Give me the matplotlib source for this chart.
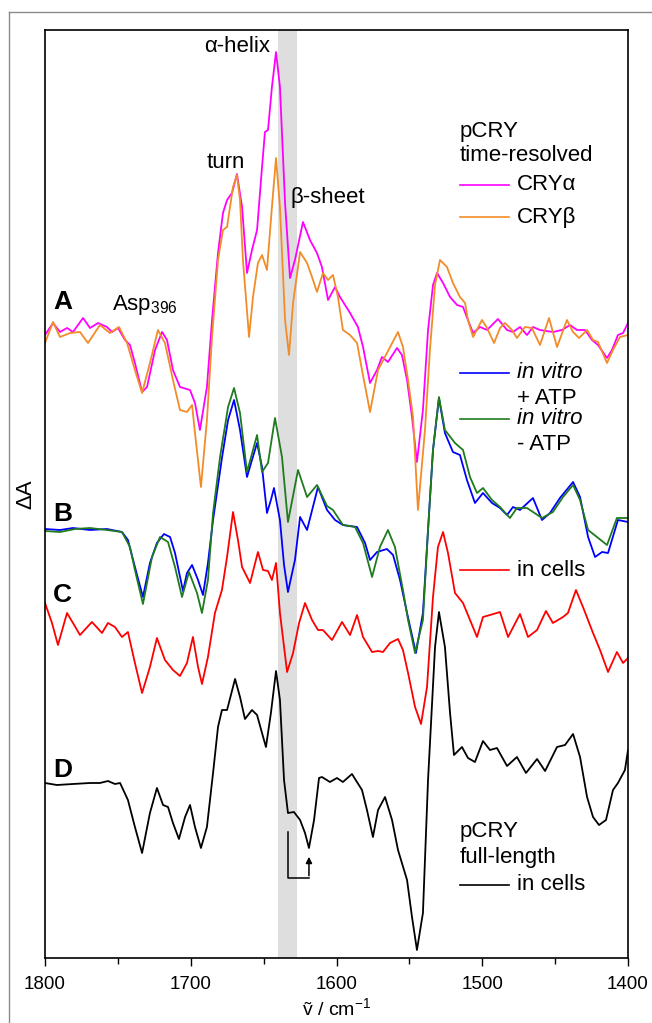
import matplotlib
matplotlib.use("Agg")
import matplotlib.pyplot as plt
from matplotlib.lines import Line2D

plt.rcParams['font.family'] = ['Liberation Sans', 'DejaVu Sans']
plt.rcParams['mathtext.fontset'] = 'custom'
plt.rcParams['mathtext.rm'] = 'Liberation Sans'
plt.rcParams['mathtext.it'] = 'Liberation Sans:italic'

# difference spectra, (wavenumber / cm-1, dA in arb. units relative to each trace's baseline)
cry_alpha = [(1800.0, -5), (1794.5, 7), (1789.7, -2), (1784.9, 2), (1780.8, -2), (1773.9, 12), (1769.1, 2),
             (1763.6, 7), (1757.5, 3), (1754.0, -2), (1749.9, 2), (1745.1, -10), (1741.7, -15), (1738.3, -33),
             (1733.4, -62), (1730.0, -57), (1724.5, -20), (1719.7, -2), (1716.3, -10), (1712.2, -40),
             (1707.4, -57), (1700.5, -60), (1697.1, -73), (1693.7, -100), (1688.9, -57), (1685.4, 10),
             (1681.3, 77), (1677.9, 117), (1675.1, 130), (1671.7, 137), (1668.3, 156), (1664.8, 123),
             (1661.4, 57), (1658.0, 80), (1654.5, 100), (1651.1, 163), (1649.1, 198), (1647.0, 200),
             (1644.3, 243), (1641.5, 278), (1638.8, 243), (1635.3, 127), (1631.9, 52), (1628.5, 70),
             (1623.0, 108), (1618.2, 90), (1613.4, 77), (1610.0, 63), (1605.8, 30), (1601.0, 43), (1597.6, 33),
             (1590.7, 17), (1585.3, 3), (1581.8, -17), (1577.0, -53), (1572.2, -40), (1568.8, -27),
             (1564.7, -32), (1558.5, -18), (1555.1, -25), (1551.6, -50), (1548.2, -87), (1544.8, -132),
             (1540.7, -80), (1537.2, 0), (1533.8, 45), (1531.0, 57), (1526.9, 47), (1522.1, 33), (1517.3, 25),
             (1513.2, 23), (1509.8, 10), (1506.3, -3), (1501.5, 3), (1496.7, 0), (1489.2, 11), (1483.0, 0),
             (1478.9, -2), (1474.1, 3), (1469.3, -5), (1465.2, 3), (1460.4, 0), (1451.5, -2), (1445.3, 0),
             (1439.8, 5), (1435.0, 0), (1429.5, 0), (1424.7, -10), (1420.6, -15), (1414.4, -28), (1411.0, -20),
             (1406.9, -5), (1403.4, -3), (1400.0, 7)]

cry_beta = [(1800.0, -13), (1794.5, 8), (1789.7, -7), (1782.8, -3), (1776.0, -2), (1770.5, -13), (1762.3, 5),
            (1755.4, -3), (1749.2, 3), (1743.7, -13), (1738.3, -40), (1733.4, -63), (1728.0, -33), (1722.5, 0),
            (1717.7, -13), (1712.2, -50), (1707.4, -80), (1702.6, -82), (1699.1, -75), (1697.1, -103),
            (1693.0, -157), (1688.9, -90), (1685.4, -7), (1681.3, 70), (1677.9, 100), (1675.1, 103),
            (1671.0, 143), (1668.3, 155), (1666.2, 130), (1664.2, 70), (1660.0, -7), (1657.3, 33), (1653.9, 67),
            (1651.1, 75), (1647.7, 60), (1644.3, 123), (1641.5, 172), (1638.8, 123), (1635.3, 10),
            (1632.6, -25), (1629.8, 27), (1625.0, 78), (1620.2, 67), (1616.8, 53), (1613.4, 38), (1609.3, 57),
            (1605.8, 50), (1602.4, 55), (1599.0, 33), (1595.6, 0), (1590.7, -5), (1585.9, -13), (1582.5, -40),
            (1577.0, -82), (1571.5, -40), (1565.4, -23), (1557.8, -2), (1554.4, -17), (1550.9, -50),
            (1547.5, -87), (1544.1, -180), (1539.3, -100), (1535.9, -20), (1532.4, 45), (1529.0, 70),
            (1524.2, 63), (1520.1, 47), (1515.3, 33), (1511.8, 27), (1509.8, 10), (1506.3, -7), (1500.2, 10),
            (1496.7, 2), (1491.9, -13), (1487.8, 2), (1484.4, 7), (1479.6, 0), (1476.2, -8), (1470.7, 3),
            (1465.9, 2), (1460.4, -15), (1454.2, 12), (1448.7, -17), (1441.9, 10), (1437.7, -2), (1433.6, -8),
            (1428.1, 0), (1424.0, -10), (1420.6, -12), (1414.4, -33), (1410.3, -20), (1405.5, -7), (1400.0, -5)]

vitro_atp = [(1800.0, 1), (1789.7, 0), (1780.8, 2), (1769.1, 0), (1757.5, 1), (1747.2, -2), (1743.1, -10),
             (1738.3, -37), (1732.8, -67), (1728.0, -33), (1723.2, -13), (1718.4, -4), (1714.2, -7),
             (1710.8, -23), (1705.3, -61), (1702.6, -43), (1699.1, -35), (1695.0, -50), (1691.6, -65),
             (1688.2, -33), (1684.7, 10), (1678.6, 72), (1674.4, 110), (1670.3, 130), (1666.2, 100),
             (1661.4, 53), (1658.0, 70), (1654.5, 87), (1651.1, 63), (1647.7, 17), (1645.0, 30), (1642.9, 42),
             (1638.8, 10), (1636.0, -35), (1633.3, -62), (1628.5, -30), (1625.0, 13), (1620.2, 0), (1612.7, 43),
             (1606.5, 20), (1601.0, 10), (1595.6, 5), (1585.9, 3), (1580.4, -13), (1577.0, -30), (1572.2, -22),
             (1565.4, -19), (1561.2, -25), (1556.4, -50), (1551.6, -83), (1545.5, -123), (1540.7, -83),
             (1537.2, 0), (1533.8, 80), (1529.7, 132), (1525.6, 97), (1520.1, 78), (1515.3, 75), (1510.5, 50),
             (1505.0, 27), (1499.5, 37), (1493.3, 27), (1487.8, 22), (1483.0, 15), (1478.9, 23), (1474.1, 20),
             (1465.2, 32), (1459.0, 10), (1453.5, 17), (1446.7, 32), (1437.7, 48), (1432.9, 33), (1427.4, -7),
             (1422.6, -27), (1417.8, -22), (1413.7, -23), (1406.9, 10), (1400.0, 8)]

vitro_no_atp = [(1800.0, -1), (1789.7, -2), (1779.4, 1), (1769.1, 2), (1757.5, 0), (1747.2, -2), (1741.7, -17),
                (1738.3, -40), (1732.8, -74), (1726.6, -27), (1721.1, -7), (1715.6, -12), (1710.8, -37),
                (1706.0, -67), (1701.2, -42), (1695.7, -63), (1692.3, -83), (1688.2, -50), (1684.7, 17),
                (1679.9, 73), (1674.4, 123), (1670.3, 142), (1666.2, 117), (1661.4, 58), (1654.5, 95),
                (1651.1, 58), (1647.0, 67), (1642.2, 112), (1637.4, 73), (1633.3, 8), (1626.4, 60), (1620.2, 33),
                (1613.4, 45), (1606.5, 24), (1602.4, 20), (1595.6, 5), (1587.3, 3), (1581.8, -13), (1575.6, -47),
                (1570.2, -17), (1564.7, 0), (1559.9, -17), (1554.4, -60), (1550.9, -90), (1546.1, -123),
                (1540.7, -90), (1537.2, 0), (1533.8, 80), (1529.7, 133), (1525.6, 100), (1518.7, 87),
                (1513.2, 80), (1508.4, 53), (1503.6, 37), (1499.5, 42), (1493.3, 30), (1487.8, 23), (1481.0, 12),
                (1476.2, 22), (1469.3, 22), (1459.0, 12), (1451.5, 18), (1444.6, 33), (1437.7, 45), (1432.9, 30),
                (1427.4, 0), (1421.3, -7), (1414.4, -15), (1407.6, 12), (1400.0, 12)]

in_cells = [(1800.0, 17), (1795.2, -3), (1791.1, -25), (1784.9, 7), (1780.8, -3), (1776.0, -15), (1767.8, -2),
            (1760.9, -13), (1756.8, -3), (1752.0, -7), (1747.2, -17), (1743.1, -12), (1738.3, -43),
            (1733.4, -73), (1728.0, -47), (1723.2, -18), (1717.7, -40), (1712.2, -50), (1707.4, -56),
            (1702.6, -43), (1698.5, -17), (1695.0, -47), (1692.3, -64), (1688.2, -37), (1683.4, 7), (1678.6, 30),
            (1675.1, 63), (1671.0, 108), (1667.6, 80), (1664.8, 53), (1659.3, 37), (1653.9, 68), (1650.4, 50),
            (1647.0, 49), (1644.3, 40), (1641.5, 57), (1638.8, 7), (1633.9, -52), (1629.8, -33), (1625.7, -3),
            (1621.6, 17), (1616.8, 0), (1612.7, -10), (1609.3, -10), (1603.1, -20), (1596.2, -2), (1590.7, -15),
            (1585.9, 5), (1581.8, -17), (1575.6, -32), (1571.5, -31), (1568.1, -32), (1563.3, -23),
            (1557.8, -19), (1554.4, -30), (1550.9, -53), (1546.1, -87), (1542.0, -104), (1537.9, -67),
            (1533.8, 23), (1530.4, 73), (1526.9, 88), (1523.5, 67), (1518.7, 27), (1513.2, 17), (1508.4, 0),
            (1503.6, -17), (1499.5, 3), (1494.7, 5), (1487.8, 8), (1482.3, -17), (1474.1, 6), (1468.6, -17),
            (1462.4, -10), (1456.3, 9), (1451.5, -3), (1444.6, 3), (1441.2, 7), (1435.7, 30), (1430.9, 13),
            (1424.0, -13), (1419.2, -30), (1413.7, -52), (1407.6, -32), (1403.4, -43), (1400.0, -38)]

full_length = [(1800.0, 0), (1791.8, -2), (1780.8, -1), (1769.1, 0), (1762.3, 0), (1756.8, 2), (1752.0, -1),
               (1748.5, 0), (1743.1, -17), (1738.3, -44), (1733.4, -70), (1728.0, -30), (1723.2, -5),
               (1719.0, -22), (1715.6, -24), (1712.2, -40), (1708.1, -56), (1703.9, -34), (1700.5, -22),
               (1697.1, -44), (1693.0, -65), (1688.9, -44), (1684.7, 10), (1681.3, 56), (1678.6, 73),
               (1675.1, 73), (1669.6, 104), (1666.2, 86), (1662.8, 64), (1658.0, 73), (1654.5, 68), (1651.1, 50),
               (1648.4, 36), (1645.0, 70), (1641.5, 112), (1638.8, 83), (1636.0, 3), (1633.3, -30), (1629.2, -29),
               (1625.0, -37), (1621.6, -50), (1618.9, -65), (1615.4, -37), (1612.0, 5), (1610.0, 6), (1604.5, 1),
               (1599.7, 5), (1595.6, 1), (1589.4, 9), (1582.5, -7), (1579.1, -27), (1575.0, -54), (1571.5, -27),
               (1566.7, -14), (1561.9, -37), (1557.8, -67), (1551.6, -97), (1548.2, -134), (1544.8, -167),
               (1540.7, -130), (1537.2, 3), (1532.4, 136), (1529.7, 171), (1525.6, 136), (1522.1, 70),
               (1519.4, 28), (1513.9, 36), (1509.8, 25), (1505.0, 21), (1499.5, 42), (1494.7, 33), (1489.9, 35),
               (1483.0, 17), (1476.2, 26), (1470.0, 10), (1462.4, 24), (1456.9, 12), (1448.7, 36), (1443.2, 38),
               (1437.7, 49), (1432.9, 26), (1428.1, -14), (1424.0, -34), (1419.9, -42), (1415.1, -37),
               (1410.3, -7), (1406.9, 0), (1402.1, 13), (1400.0, 33)]

# vertical stacking offsets for panels A-D
offsets = {'A': 628, 'B': 428, 'C': 338, 'D': 175}

fig = plt.figure(figsize=(6.52, 10.23), dpi=100)
ax = fig.add_axes([45 / 652, 65 / 1023, 583 / 652, 928 / 1023])

# beta-sheet marker band
ax.axvspan(1640, 1627, color='#dedede', lw=0, zorder=0)

series = [(cry_alpha, 'A', '#ff00ff'), (cry_beta, 'A', '#f28c28'),
          (vitro_atp, 'B', '#0000ff'), (vitro_no_atp, 'B', '#1e7b1e'),
          (in_cells, 'C', '#ff0000'), (full_length, 'D', '#000000')]
for data, panel, col in series:
    nu = [p[0] for p in data]
    dA = [p[1] + offsets[panel] for p in data]
    ax.plot(nu, dA, color=col, lw=1.3, solid_joinstyle='round', solid_capstyle='round')

ax.set_xlim(1800, 1400)
ax.set_ylim(0, 928)
ax.set_xticks([1800, 1700, 1600, 1500, 1400])
ax.set_xticks([1750, 1650, 1550, 1450], minor=True)
ax.set_yticks([])
ax.tick_params(axis='x', which='major', direction='out', length=6, width=1, labelsize=13.5, pad=7)
ax.tick_params(axis='x', which='minor', direction='out', length=4, width=1)
for s in ax.spines.values():
    s.set_linewidth(1.2)
ax.set_xlabel('ṽ / cm$^{-1}$', fontsize=14, labelpad=3)
ax.set_ylabel('ΔA', fontsize=16, labelpad=6)

fs = 16
ax.text(1645.6, 906, 'α-helix', fontsize=fs, ha='right', va='baseline')
ax.text(1675.8, 790, 'turn', fontsize=fs, ha='center', va='baseline')
ax.text(1631.9, 755, 'β-sheet', fontsize=fs, ha='left', va='baseline')
ax.text(1754.0, 648, 'Asp$_{396}$', fontsize=fs, ha='left', va='baseline')

for letter, y in [('A', 656), ('B', 444), ('C', 363), ('D', 188)]:
    ax.text(1794.5, y, letter, fontsize=19, fontweight='bold', ha='left', va='center')

# legend blocks
x0, x1, xt = 1515.3, 1481.7, 1476.2
ax.text(x0, 821, 'pCRY', fontsize=fs, va='baseline')
ax.text(x0, 797, 'time-resolved', fontsize=fs, va='baseline')
legend_rows = [(773, '#ff00ff', 'CRYα', 'normal'), (741, '#f28c28', 'CRYβ', 'normal'),
               (585, '#0000ff', 'in vitro', 'italic'), (539, '#1e7b1e', 'in vitro', 'italic'),
               (388, '#ff0000', 'in cells', 'normal'), (73, '#000000', 'in cells', 'normal')]
for y, col, lab, st in legend_rows:
    ax.plot([x0, x1], [y, y], color=col, lw=1.2)
    ax.text(xt, y, lab, fontsize=fs, style=st, va='center')
ax.text(xt, 560, '+ ATP', fontsize=fs, va='center')
ax.text(xt, 513, '- ATP', fontsize=fs, va='center')
ax.text(x0, 121, 'pCRY', fontsize=fs, va='baseline')
ax.text(x0, 95, 'full-length', fontsize=fs, va='baseline')

# shift arrow
ax.plot([1633.3, 1633.3, 1618.9], [126, 80, 80], color='black', lw=1.1)
ax.annotate('', xy=(1618.9, 104), xytext=(1618.9, 79.5),
            arrowprops=dict(arrowstyle='-|>', color='black', lw=1.1, mutation_scale=9))

# outer frame of the figure panel
fig.add_artist(Line2D([9 / 652, 1], [1 - 12 / 1023, 1 - 12 / 1023], color='#8a8a8a', lw=1))
fig.add_artist(Line2D([9 / 652, 9 / 652], [0, 1 - 12 / 1023], color='#8a8a8a', lw=1))

fig.savefig('out.png', dpi=100)
